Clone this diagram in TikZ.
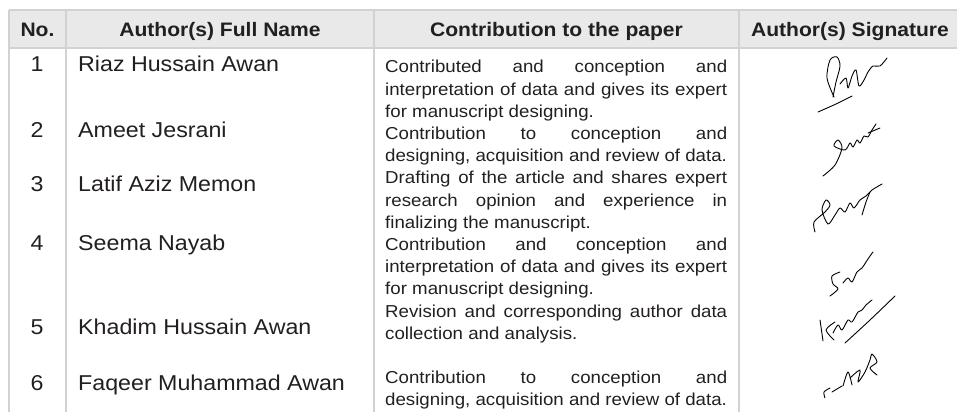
\documentclass[tikz,border=0pt]{standalone}
\usepackage{fontspec}
\setmainfont{Liberation Sans}[FakeStretch=1.08]
\usepackage{tikz}
\usepackage{xcolor}
\definecolor{rule}{HTML}{D2D2D2}
\definecolor{headfill}{HTML}{E9E9E9}
\definecolor{ink}{HTML}{231F20}

\begin{document}
\begin{tikzpicture}[x=1pt, y=-1pt,
  head/.style={anchor=base, inner sep=0pt, font=\fontsize{19.5}{22}\selectfont\bfseries, text=ink},
  num/.style={anchor=base, inner sep=0pt, font=\fontsize{21.5}{24}\selectfont, text=ink},
  who/.style={anchor=base west, inner sep=0pt, font=\fontsize{21.5}{24}\selectfont, text=ink},
  role/.style={anchor=north west, inner sep=0pt, text width=342pt, align=justify, font=\fontsize{17.3}{22.2}\selectfont, text=ink},
  rulecol/.style={draw=rule, line width=1.4pt},
  sig/.style={draw=black, line width=0.9pt, line cap=round, line join=round}
]
  \useasboundingbox (0,0) rectangle (957,412);

  % table frame
  \fill[headfill] (9,10) rectangle (957,48);
  \draw[rulecol] (9,10) -- (957,10);
  \draw[rulecol] (9,48) -- (957,48);
  \foreach \x in {9,66,374,739}
    \draw[rulecol] (\x,10) -- (\x,412);

  % header
  \node[head] (hno) at (37.5,36.5) {No.};
  \node[head] (hname) at (220,36.5) {Author(s) Full Name};
  \node[head] (hrole) at (556.5,36.5) {Contribution to the paper};
  \node[head] (hsig) at (850,36.5) {Author(s) Signature};

  % numbers and names
  \node[num] (n1) at (37,71.5) {1};
  \node[who] (a1) at (78,71.5) {Riaz Hussain Awan};
  \node[num] (n2) at (37,137) {2};
  \node[who] (a2) at (78,137) {Ameet Jesrani};
  \node[num] (n3) at (37,191.5) {3};
  \node[who] (a3) at (78,191.5) {Latif Aziz Memon};
  \node[num] (n4) at (37,250.5) {4};
  \node[who] (a4) at (78,250.5) {Seema Nayab};
  \node[num] (n5) at (37,334) {5};
  \node[who] (a5) at (78,334) {Khadim Hussain Awan};
  \node[num] (n6) at (37,390) {6};
  \node[who] (a6) at (78,390) {Faqeer Muhammad Awan};

  % contributions
  \node[role] (r1) at (385,57.2) {\strut Contributed and conception and\linebreak interpretation of data and gives its expert\linebreak for manuscript designing.};
  \node[role] (r2) at (385,123.8) {\strut Contribution to conception and\linebreak designing, acquisition and review of data.};
  \node[role] (r3) at (385,168.2) {\strut Drafting of the article and shares expert\linebreak research opinion and experience in\linebreak finalizing the manuscript.};
  \node[role] (r4) at (385,234.8) {\strut Contribution and conception and\linebreak interpretation of data and gives its expert\linebreak for manuscript designing.};
  \node[role] (r5) at (385,301.4) {\strut Revision and corresponding author data\linebreak collection and analysis.};
  \node[role] (r6) at (385,368.0) {\strut Contribution to conception and\linebreak designing, acquisition and review of data.};

  % signatures
  \draw[sig] plot[smooth] coordinates {(834,97) (827,78) (830,60) (837,57) (840,66) (836,82) (833,97)};
  \draw[sig] plot[smooth] coordinates {(818,112) (836,104) (852,96)};
  \draw[sig] plot[smooth] coordinates {(840,84) (846,78) (848,88) (852,76) (856,70) (859,86) (864,80) (868,72) (873,66) (880,66) (887,58)};

  \draw[sig] plot[smooth] coordinates {(823,176) (835,165) (842,148) (838,140) (834,146) (845,150) (850,143) (853,147) (857,140) (860,143) (864,136) (868,137) (872,130) (876,124)};
  \draw[sig] (868,133) -- (880,128);

  \draw[sig] plot[smooth] coordinates {(815,232) (814,222) (825,212) (830,205) (826,200) (822,210) (828,224) (835,215) (840,208) (845,212) (850,203) (854,208) (860,200) (866,196) (872,190) (882,184)};
  \draw[sig] plot[smooth] coordinates {(862,215) (866,202) (870,192)};

  \draw[sig] plot[smooth] coordinates {(840,272) (832,276) (833,284) (838,289) (830,296)};
  \draw[sig] plot[smooth] coordinates {(843,283) (848,278) (852,282) (857,272) (862,268) (866,262) (870,256) (873,252)};

  \draw[sig] (820,320) -- (823,341);
  \draw[sig] plot[smooth] coordinates {(835,322) (826,330) (834,340)};
  \draw[sig] plot[smooth] coordinates {(833,333) (838,325) (842,330) (848,320) (852,322) (858,312) (862,310) (866,305) (872,300)};
  \draw[sig] plot[smooth] coordinates {(845,343) (870,320) (895,296)};

  \draw[sig] plot[smooth] coordinates {(825,398) (824,392) (830,388)};
  \draw[sig] (832,392) -- (842,386);
  \draw[sig] plot[smooth] coordinates {(843,386) (848,372) (852,385)};
  \draw[sig] plot[smooth] coordinates {(850,378) (860,370) (858,382) (865,372) (870,360) (872,354) (877,362) (870,368) (877,375)};
\end{tikzpicture}
\end{document}
